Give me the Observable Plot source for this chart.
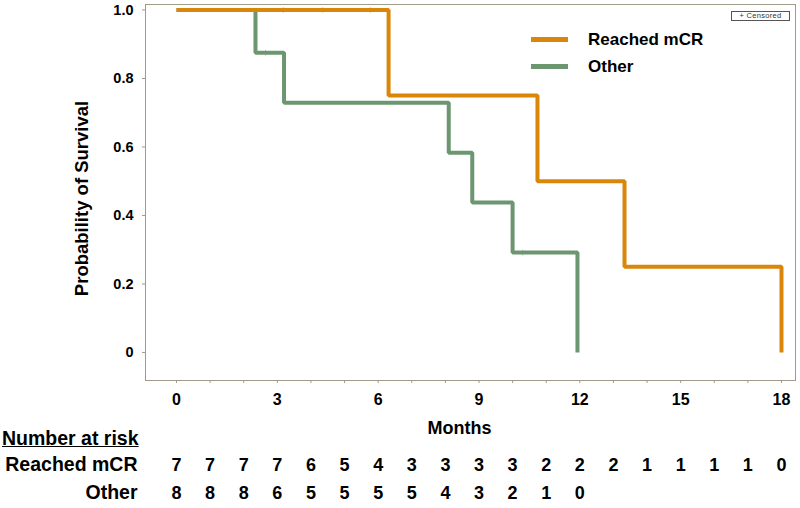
<!DOCTYPE html>
<html>
<head>
<meta charset="utf-8">
<script src="https://cdn.jsdelivr.net/npm/d3@7"></script>
<script src="https://cdn.jsdelivr.net/npm/@observablehq/plot@0.6"></script>
<style>
  html, body { margin: 0; padding: 0; background: #fff; }
  body { width: 800px; height: 508px; overflow: hidden; font-family: "Liberation Sans", Arial, sans-serif; }
  #wrap { position: relative; width: 800px; height: 508px; }
  .ov { position: absolute; font-weight: bold; color: #000; white-space: nowrap; }
  .lg { position: absolute; height: 5px; }
</style>
</head>
<body>
<div id="wrap"></div>
<script>
// ---- Data ----
const groups = ["Reached mCR", "Other"];
const groupColors = ["#D9860A", "#6B9670"];

// Kaplan–Meier step points (months, survival probability)
const mcrTimes = [0, 6.31, 10.74, 13.33, 18.0];
const mcrSurv  = [1, 0.75, 0.5, 0.25, 0];
const otherTimes = [0, 2.35, 3.2, 8.1, 8.8, 10.0, 11.93];
const otherSurv  = [1, 0.875, 0.729, 0.583, 0.4375, 0.2917, 0];

// Censor marks
const mcrCensorTimes = [3.18, 4.35, 5.77];
const mcrCensorSurv  = [1, 1, 1];
const otherCensorTimes = [2.65, 10.3];
const otherCensorSurv  = [0.875, 0.2917];

// Number at risk table (at each month)
const riskMonthsMcr = d3.range(0, 19);
const riskMcr = [7, 7, 7, 7, 6, 5, 4, 3, 3, 3, 3, 2, 2, 2, 1, 1, 1, 1, 0];
const riskMonthsOther = d3.range(0, 13);
const riskOther = [8, 8, 8, 6, 5, 5, 5, 5, 4, 3, 2, 1, 0];

// Axis ticks
const xTickLabels = [0, 3, 6, 9, 12, 15, 18];
const xMinorTicks = d3.range(0, 19);
const yTicks = [0, 0.2, 0.4, 0.6, 0.8, 1.0];

// ---- Build tables (Other first so Reached mCR is drawn on top) ----
const curves = [
  ...otherTimes.map((t, i) => ({group: groups[1], t, s: otherSurv[i]})),
  ...mcrTimes.map((t, i) => ({group: groups[0], t, s: mcrSurv[i]}))
];
const censors = [
  ...otherCensorTimes.map((t, i) => ({group: groups[1], t, s: otherCensorSurv[i]})),
  ...mcrCensorTimes.map((t, i) => ({group: groups[0], t, s: mcrCensorSurv[i]}))
];
const riskRowMcr = riskMonthsMcr.map((m, i) => ({m, n: riskMcr[i]}));
const riskRowOther = riskMonthsOther.map((m, i) => ({m, n: riskOther[i]}));

const vtick = {
  draw(context, size) {
    const r = Math.sqrt(size / Math.PI);
    context.moveTo(0, -r);
    context.lineTo(0, r);
  }
};

const font = "Liberation Sans, Arial, sans-serif";

const chart = Plot.plot({
  width: 800,
  height: 508,
  marginLeft: 145,
  marginRight: 5,
  marginTop: 4,
  marginBottom: 128,
  style: {fontFamily: font, background: "#fff"},
  x: {domain: [-0.922, 18.417]},
  y: {domain: [-0.0819, 1.016]},
  color: {domain: groups, range: groupColors},
  marks: [
    Plot.frame({stroke: "#9f9b88", strokeWidth: 1}),
    // minor x ticks
    Plot.axisX({ticks: xMinorTicks, tickSize: 3, tickFormat: () => "", stroke: "#9f9b88", label: null}),
    // x labels
    Plot.axisX({ticks: xTickLabels, tickSize: 0, tickPadding: 13, fontSize: 16, fontWeight: "bold", label: null, tickFormat: d => String(d)}),
    // y axis
    Plot.axisY({ticks: yTicks, tickSize: 3, tickPadding: 9, fontSize: 14.5, fontWeight: "bold", stroke: "#9f9b88", label: null,
      tickFormat: d => d === 0 ? "0" : d3.format(".1f")(d)}),
    // curves
    Plot.line(curves, {x: "t", y: "s", z: "group", stroke: "group", strokeWidth: 4, curve: "step-after", strokeLinejoin: "miter", strokeLinecap: "butt"}),
    Plot.dot(censors, {x: "t", y: "s", stroke: "group", symbol: vtick, r: 3, strokeWidth: 1, strokeOpacity: 0.45}),
    // axis titles
    Plot.text(["Probability of Survival"], {frameAnchor: "left", textAnchor: "middle", rotate: -90, dx: -63, dy: 6, fontSize: 18.5, fontWeight: "bold", fill: "#000"}),
    Plot.text(["Months"], {frameAnchor: "bottom", dx: -11, dy: 53, fontSize: 18, fontWeight: "bold", fill: "#000"}),
    // risk table
    Plot.text([groups[0]], {frameAnchor: "bottom-left", textAnchor: "end", dx: -8, dy: 90, fontSize: 19.5, fontWeight: "bold", fill: "#000"}),
    Plot.text([groups[1]], {frameAnchor: "bottom-left", textAnchor: "end", dx: -8, dy: 118, fontSize: 19.5, fontWeight: "bold", fill: "#000"}),
    Plot.text(riskRowMcr, {x: "m", text: d => String(d.n), frameAnchor: "bottom", dy: 90, fontSize: 18, fontWeight: "bold", fill: "#000"}),
    Plot.text(riskRowOther, {x: "m", text: d => String(d.n), frameAnchor: "bottom", dy: 118, fontSize: 18, fontWeight: "bold", fill: "#000"})
  ]
});

const wrap = document.getElementById("wrap");
wrap.appendChild(chart);

// Overlays: legend, censored box, "Number at risk"
function addDiv(cls, css, text) {
  const d = document.createElement("div");
  d.className = cls;
  Object.assign(d.style, css);
  if (text != null) d.textContent = text;
  wrap.appendChild(d);
  return d;
}
groups.forEach((g, i) => {
  const cy = i === 0 ? 39.5 : 66.5;
  addDiv("lg", {left: "531px", top: (cy - 2.5) + "px", width: "37px", background: groupColors[i]});
  addDiv("ov", {left: "588px", top: (cy - 10) + "px", fontSize: "17px", lineHeight: "20px"}, g);
});
addDiv("ov", {left: "731px", top: "11px", width: "57px", height: "8px", border: "1px solid #555", fontSize: "7.5px",
  lineHeight: "8px", fontWeight: "normal", textAlign: "center", color: "#333", letterSpacing: "0.3px"}, "+ Censored");
addDiv("ov", {left: "2px", top: "426px", fontSize: "19.5px", lineHeight: "24px", textDecoration: "underline"}, "Number at risk");
</script>
</body>
</html>
